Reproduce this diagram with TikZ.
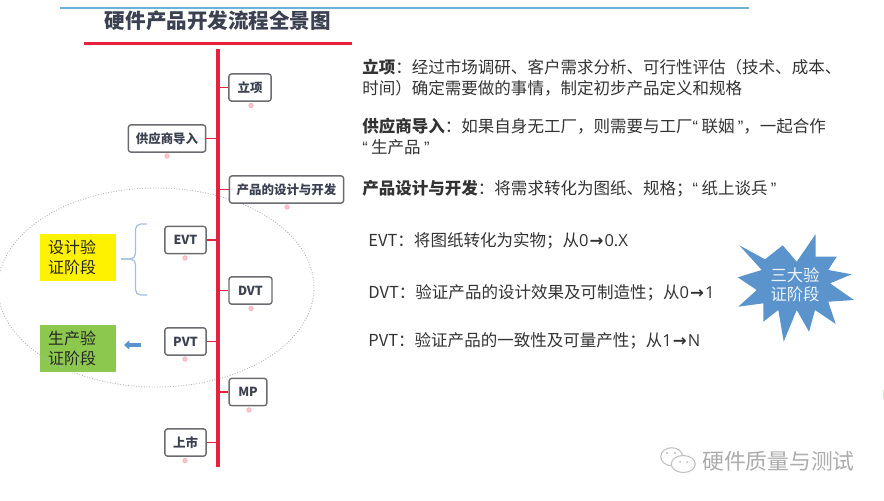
\documentclass[tikz,border=0pt]{standalone}
\usepackage{fontspec}
\setmainfont{Noto Sans CJK SC}
\newfontfamily\quotefont{Liberation Sans}
\newfontfamily\numfont{Open Sans}
\newfontfamily\arrowfont{DejaVu Sans}
\newcommand{\qopen}{{\quotefont “}\kern1.9pt}
\newcommand{\qclose}{\kern1.9pt{\quotefont ”}}
\newcommand{\numarrow}[2]{{\numfont #1\kern0.6pt{\arrowfont\bfseries →}\kern0.6pt#2}}
\usetikzlibrary{arrows.meta}

\definecolor{stagered}{HTML}{E8203F}
\definecolor{boxtext}{HTML}{3B4150}
\definecolor{boxline}{HTML}{6A6C72}
\definecolor{braceblue}{HTML}{A3BFDD}
\definecolor{starblue}{HTML}{5B94CC}
\definecolor{stagegreen}{HTML}{8CC84E}
\definecolor{topblue}{HTML}{6DB2D6}

\tikzset{
    stage/.style={draw=boxline, line width=0.8pt, rounded corners=1.5pt, fill=white, text=boxtext, inner sep=0pt, minimum height=15.5pt, font=\fontsize{7.1}{8}\selectfont\bfseries},
    branch/.style={stagered, line width=0.6pt},
    marker/.style={draw=stagered!35, fill=stagered!25, line width=0.4pt},
    note/.style={anchor=west, align=left, text=black!80, inner sep=0pt, font=\fontsize{9.4}{11.9}\selectfont},
    phase/.style={anchor=center, align=left, text width=34pt, inner xsep=4.5pt, inner ysep=0pt, minimum height=26.6pt, text=black!85, font=\fontsize{9.1}{11}\selectfont}
}

\begin{document}
\begin{tikzpicture}[x=0.02cm, y=-0.02cm]
        \useasboundingbox (0, 0) rectangle (884, 500);

        \draw[topblue, line width=0.6pt] (60, 8) -- (749, 8);
        \node[text=boxtext, inner sep=0pt, font=\fontsize{11.7}{13}\selectfont\bfseries] (title) at (218, 21) {硬件产品开发流程全景图};
        \draw[stagered, line width=2pt] (84, 43.5) -- (352, 43.5);

        % PHASE BOXES
        \node[phase, fill=yellow] (designphase) at (78, 257.5) {设计验\\证阶段};
        \node[phase, fill=stagegreen] (prodphase) at (78, 348.5) {生产验\\证阶段};
        \draw[braceblue, line width=0.7pt, rounded corners=3pt] (147, 224) -- (135.5, 224) -- (135.5, 259) -- (121, 259);
        \draw[braceblue, line width=0.7pt, rounded corners=3pt] (121, 259) -- (135.5, 259) -- (135.5, 295) -- (147, 295);
        \coordinate (arrowtail) at (141, 345);
        \coordinate (arrowtip) at (124, 345);
        \draw[-{Triangle[length=3pt, width=5pt]}, starblue, line width=2.2pt] (arrowtail) -- (arrowtip);

        % ELLIPSE
        \draw[gray!60, densely dotted, line width=0.5pt] (156, 287.5) ellipse (158 and 99.5);

        % SPINE
        \coordinate (spinetop) at (218, 49);
        \coordinate (spinebot) at (218, 467);
        \draw[stagered, line width=2pt] (spinetop) -- (spinebot);

        % STAGES
        \node[stage, minimum width=24pt] (lixiang) at (250, 87.5) {立项};
        \node[stage, minimum width=44pt] (gongying) at (167, 138.5) {供应商导入};
        \node[stage, minimum width=65pt] (sheji) at (286.5, 189.5) {产品的设计与开发};
        \node[stage, minimum width=23.5pt] (evt) at (185.5, 240) {EVT};
        \node[stage, minimum width=24.5pt] (dvt) at (250.5, 290.5) {DVT};
        \node[stage, minimum width=23.5pt] (pvt) at (185.5, 341.5) {PVT};
        \node[stage, minimum width=21.5pt] (mp) at (248, 392) {MP};
        \node[stage, minimum width=23.5pt] (shangshi) at (185.5, 442.5) {上市};

        \draw[branch] (lixiang.west) -- (lixiang.west -| spinetop);
        \draw[branch] (gongying.east) -- (gongying.east -| spinetop);
        \draw[branch] (sheji.west) -- (sheji.west -| spinetop);
        \draw[branch] (evt.east) -- (evt.east -| spinetop);
        \draw[branch] (dvt.west) -- (dvt.west -| spinetop);
        \draw[branch] (pvt.east) -- (pvt.east -| spinetop);
        \draw[branch] (mp.west) -- (mp.west -| spinetop);
        \draw[branch] (shangshi.east) -- (shangshi.east -| spinetop);

        \draw[marker] (251, 105.5) circle (2.2);
        \draw[marker] (167, 156) circle (2.2);
        \draw[marker] (287, 207) circle (2.2);
        \draw[marker] (185, 258) circle (2.2);
        \draw[marker] (251, 308.5) circle (2.2);
        \draw[marker] (185, 359) circle (2.2);
        \draw[marker] (249, 410) circle (2.2);
        \draw[marker] (185, 460.5) circle (2.2);

        % NOTES
        \node[note] (notelixiang) at (362, 77.5) {\textbf{立项}：经过市场调研、客户需求分析、可行性评估（技术、成本、\\时间）确定需要做的事情，制定初步产品定义和规格};
        \node[note] (notegongying) at (362, 136.5) {\textbf{供应商导入}：如果自身无工厂，则需要与工厂\qopen 联姻\qclose ，一起合作\\\qopen 生产品\qclose};
        \node[note] (notesheji) at (362, 189) {\textbf{产品设计与开发}：将需求转化为图纸、规格；\qopen 纸上谈兵\qclose};
        \node[note] (noteevt) at (368, 241) {EVT：将图纸转化为实物；从\numarrow{0}{0.X}};
        \node[note] (notedvt) at (368, 293) {DVT：验证产品的设计效果及可制造性；从\numarrow{0}{1}};
        \node[note] (notepvt) at (368, 341) {PVT：验证产品的一致性及可量产性；从\numarrow{1}{N}};

        % STAR
        \fill[starblue] (739.3, 245.3) -- (765, 259.3) -- (782.7, 245.3) -- (796.7, 261.7) -- (815.7, 234) -- (815.7, 256.7) -- (836.7, 256.7) -- (828.3, 270) -- (851.7, 274.3) -- (830, 283.3) -- (854, 300) -- (828.3, 301.7) -- (835.7, 324) -- (815, 310) -- (809, 331.7) -- (796.7, 310) -- (783.7, 341.7) -- (778.3, 310) -- (763.3, 321.7) -- (763.3, 303.3) -- (738.3, 306.7) -- (756.7, 290) -- (737.7, 277.3) -- (761.7, 270) -- cycle;
        \node[align=left, text=white!90!starblue, inner sep=0pt, font=\fontsize{9.3}{11}\selectfont] (startext) at (795, 284.5) {三大验\\证阶段};

        % WATERMARK
        \draw[gray!50, fill=white, line width=0.6pt] (671.7, 456.7) ellipse (11 and 9);
        \draw[gray!50, fill=white, line width=0.6pt] (683.3, 464) ellipse (12 and 8.5);
        \fill[gray!50] (667, 453) circle (1.2);
        \fill[gray!50] (675, 453) circle (1.2);
        \fill[gray!50] (680, 462) circle (1);
        \fill[gray!50] (687, 462) circle (1);
        \node[text=gray!65, inner sep=0pt, font=\fontsize{12.4}{14}\selectfont] (watermark) at (778.5, 461) {硬件质量与测试};

        % EDGE
        \fill[stagegreen!35] (882.5, 390) rectangle (884, 399);
\end{tikzpicture}
\end{document}
